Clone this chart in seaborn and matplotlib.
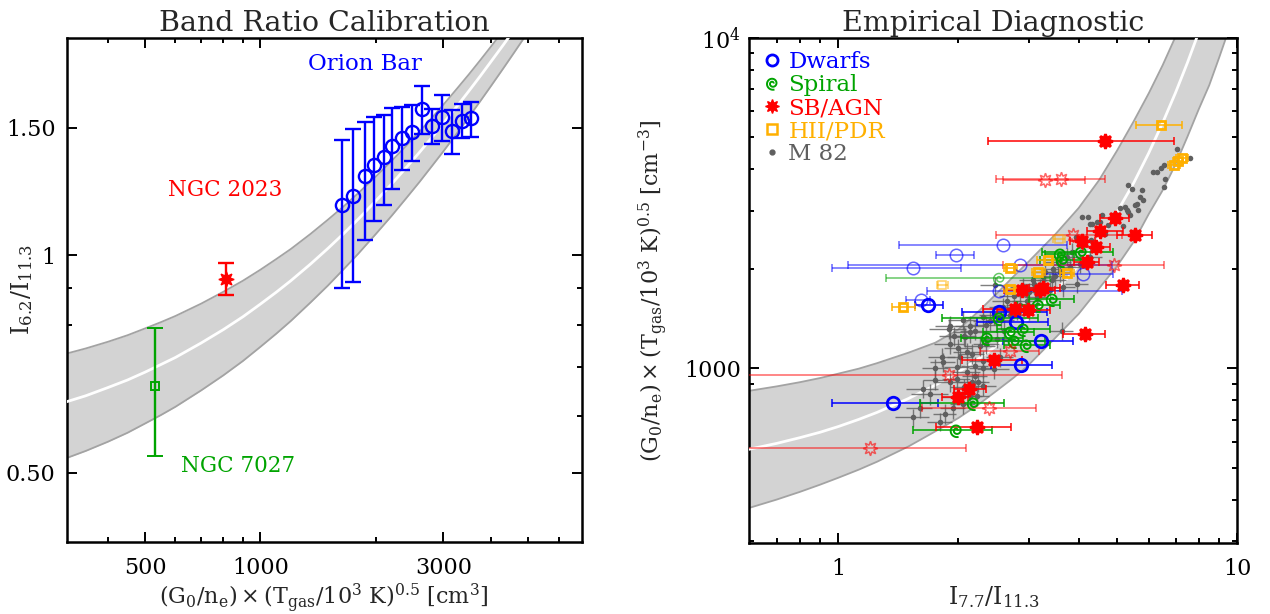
import numpy as np
import matplotlib
matplotlib.use('Agg')
import matplotlib.pyplot as plt
from matplotlib.path import Path
from matplotlib.lines import Line2D
from matplotlib.ticker import FixedLocator, FixedFormatter, NullFormatter
import seaborn as sns

# ---------------- data: left panel (band ratio calibration) ----------------
cal_x = [312, 350, 400, 450, 500, 550, 600, 700, 800, 900, 1000, 1100, 1200, 1350, 1500, 1650,
         1800, 2000, 2200, 2400, 2600, 2800, 3000, 3250, 3500, 3750, 4000, 4300, 4600, 4900, 5200]
cal_mid = [0.627, 0.639, 0.656, 0.672, 0.689, 0.706, 0.722, 0.756, 0.789, 0.822, 0.856, 0.889,
           0.922, 0.972, 1.022, 1.072, 1.122, 1.189, 1.255, 1.322, 1.388, 1.455, 1.522, 1.605,
           1.688, 1.771, 1.855, 1.954, 2.054, 2.154, 2.254]
cal_hi = [0.731, 0.743, 0.759, 0.775, 0.792, 0.808, 0.824, 0.857, 0.89, 0.922, 0.955, 0.988,
          1.02, 1.07, 1.12, 1.169, 1.219, 1.285, 1.351, 1.417, 1.483, 1.549, 1.615, 1.698,
          1.78, 1.863, 1.946, 2.045, 2.144, 2.243, 2.342]
cal_lo = [0.524, 0.536, 0.552, 0.568, 0.585, 0.601, 0.617, 0.650, 0.682, 0.714, 0.747, 0.779,
          0.811, 0.860, 0.908, 0.957, 1.005, 1.07, 1.134, 1.199, 1.263, 1.328, 1.392, 1.473,
          1.554, 1.635, 1.716, 1.813, 1.910, 2.007, 2.104]

orion_x = [1629, 1747, 1873, 1974, 2097, 2207, 2344, 2489, 2644, 2798, 2977, 3155, 3363, 3543]
orion_y = [1.172, 1.207, 1.288, 1.333, 1.366, 1.416, 1.455, 1.483, 1.591, 1.508, 1.554, 1.486, 1.536, 1.546]
orion_lo = [0.901, 0.918, 1.049, 1.115, 1.173, 1.236, 1.311, 1.352, 1.471, 1.427, 1.439, 1.382, 1.452, 1.458]
orion_hi = [1.442, 1.496, 1.528, 1.555, 1.562, 1.598, 1.604, 1.615, 1.712, 1.594, 1.667, 1.587, 1.618, 1.632]

ngc2023 = dict(x=811, y=0.928, lo=0.880, hi=0.977)
ngc7027 = dict(x=530, y=0.660, lo=0.528, hi=0.793)

# ---------------- data: right panel (empirical diagnostic) ----------------
diag_r = [0.55, 0.6, 0.7, 0.8, 0.9, 1.0, 1.125, 1.25, 1.5, 1.75, 2.0, 2.25, 2.5, 2.75, 3.0, 3.5,
          4.0, 4.5, 5.0, 5.5, 6.0, 6.5, 7.0, 7.5, 8.0, 8.5, 9.0, 9.5]
diag_mid = [558, 570, 593, 617, 641, 667, 701, 736, 811, 890, 975, 1071, 1175, 1290, 1415, 1706,
            2051, 2472, 2978, 3640, 4487, 5534, 6823, 8414, 10380, 12800, 15780, 19450]
diag_hi = [844, 856, 882, 908, 935, 964, 998, 1037, 1116, 1196, 1312, 1491, 1689, 1899, 2105, 2546,
           3053, 3706, 4567, 5593, 6799, 8265, 10080, 12220, 14650, 17810, 21960, 27060]
diag_lo = [369, 379, 401, 423, 445, 467, 494, 522, 581, 645, 708, 779, 858, 937, 1025, 1238,
           1460, 1743, 2043, 2415, 2933, 3458, 4137, 5025, 6071, 7179, 8697, 10500]

dw_x = [2.58, 1.97, 1.54, 2.85, 4.10, 2.52, 1.61, 1.68, 2.53, 2.78, 3.22, 2.87, 1.37]
dw_y = [2353, 2195, 2010, 2047, 1932, 1708, 1615, 1556, 1478, 1385, 1213, 1026, 785]
dw_xlo = [1.42, 1.76, 0.966, 1.055, 3.26, 1.67, 1.48, 1.56, 2.04, 2.22, 2.59, 2.41, 0.963]
dw_xhi = [3.74, 2.19, 2.03, 4.85, 4.89, 5.13, 1.70, 1.83, 3.33, 3.35, 3.87, 3.43, 1.78]
dw_bold = [0, 0, 0, 0, 0, 0, 0, 1, 1, 1, 1, 1, 1]

sp_x = [2.53, 3.59, 3.63, 4.06, 3.17, 3.43, 2.53, 2.69, 2.91, 2.355, 2.75, 2.95, 2.18, 1.97]
sp_y = [1874, 2222, 2121, 2246, 1560, 1622, 1421, 1285, 1317, 1236, 1213, 1180, 785, 653]
sp_xlo = [1.32, 3.3, 3.2, 3.23, 2.8, 3.0, 1.82, 2.3, 2.5, 2.03, 2.3, 2.6, 1.60, 1.54]
sp_xhi = [3.4, 3.9, 4.1, 4.89, 3.6, 3.9, 3.17, 3.1, 3.4, 2.91, 3.3, 3.4, 2.60, 2.42]
sp_bold = [0, 1, 1, 1, 1, 1, 1, 1, 1, 1, 1, 1, 1, 1]

sb_x = [4.66, 3.30, 3.61, 4.94, 4.52, 5.53, 3.88, 4.07, 4.42, 4.19, 4.92, 5.18, 3.20, 3.26, 2.88, 2.77,
        2.99, 4.15, 2.69, 2.45, 1.89, 2.12, 2.00, 2.38, 2.23, 1.20]
sb_y = [4864, 3706, 3750, 2848, 2596, 2535, 2535, 2420, 2327, 2094, 2047, 1793, 1720, 1750, 1720, 1514,
        1497, 1271, 1131, 1060, 957, 866, 817, 759, 666, 576]
sb_xlo = [2.37, 2.58, 2.49, 4.52, 4.19, 4.98, 2.49, 3.8, 4.1, 3.9, 2.58, 4.69, 2.9, 3.0, 2.6, 2.3,
          2.5, 3.66, 2.27, 2.04, 0.5, 1.95, 1.82, 1.62, 1.76, 0.5]
sb_xhi = [6.94, 4.14, 4.67, 5.36, 5.18, 6.12, 5.13, 4.4, 4.8, 4.5, 6.55, 5.68, 3.5, 3.6, 3.2, 3.1,
          3.4, 4.66, 3.19, 2.88, 3.64, 2.35, 2.11, 3.13, 2.71, 2.09]
sb_bold = [1, 0, 0, 1, 1, 1, 0, 1, 1, 1, 0, 1, 1, 1, 1, 1, 1, 1, 0, 1, 0, 1, 1, 0, 1, 0]

hii_x = [6.43, 7.26, 6.94, 7.10, 3.58, 3.36, 2.69, 3.17, 3.74, 1.82, 1.45, 2.69]
hii_y = [5440, 4330, 4113, 4250, 2466, 2121, 2010, 1960, 1945, 1789, 1531, 1740]
hii_xlo = [5.56, 7.0, 6.7, 6.9, 3.45, 3.15, 2.6, 3.05, 3.6, 1.77, 1.36, 2.6]
hii_xhi = [7.26, 7.5, 7.2, 7.3, 3.7, 3.6, 2.8, 3.3, 3.9, 1.88, 1.56, 2.8]
hii_bold = [1, 1, 1, 1, 0, 1, 1, 1, 1, 0, 1, 1]

# M 82 pixels with error bars
m82_x = [1.54, 1.85, 1.94, 1.70, 1.75, 1.63, 1.83, 1.90, 1.89, 2.06,
         2.14, 2.10, 2.27, 2.24, 2.10, 2.45, 2.31, 3.63, 2.14, 1.98,
         2.22, 1.90, 1.82, 2.08, 2.16, 2.14, 2.35, 2.40, 2.31, 2.59,
         2.91, 3.08, 3.26, 3.43, 3.59, 3.81, 3.96, 3.39, 3.14, 2.97,
         3.66, 4.04, 4.27, 3.74, 2.02, 1.98, 2.16, 2.06, 1.90, 2.54,
         2.47, 2.31, 2.70, 2.85, 3.00, 3.50, 2.20, 2.00, 2.60, 2.50,
         3.20, 3.00, 1.75, 1.95, 2.05, 2.20, 2.35, 2.45, 2.55, 2.65,
         2.75, 2.80, 3.10, 3.30, 3.45, 3.55, 3.85, 2.20, 2.30, 1.95,
         2.05, 1.80, 1.60]
m82_y = [711, 728, 757, 837, 925, 866, 1042, 1186, 1317, 1256,
         1347, 1118, 1172, 908, 973, 995, 886, 1301, 826, 929,
         826, 1347, 1080, 1242, 1106, 1285, 1186, 1395, 1427, 1531,
         1761, 1845, 1888, 1845, 1954, 2023, 1803, 1720, 1641, 1603,
         1761, 2072, 2170, 2170, 1080, 1007, 907, 876, 907, 1080,
         1781, 1055, 1450, 1550, 1700, 1900, 1020, 1150, 1300, 1230,
         1750, 1500, 1000, 1250, 1400, 1300, 1350, 1450, 1400, 1600,
         1650, 1500, 1800, 1950, 2000, 2100, 2250, 950, 1000, 820,
         780, 690, 760]
m82_xerr = [0.15, 0.12, 0.14, 0.18, 0.12, 0.15, 0.13, 0.16, 0.20, 0.15,
            0.18, 0.16, 0.20, 0.14, 0.17, 0.22, 0.18, 0.25, 0.15, 0.16,
            0.17, 0.15, 0.14, 0.19, 0.16, 0.20, 0.18, 0.22, 0.24, 0.20,
            0.22, 0.25, 0.22, 0.28, 0.25, 0.30, 0.26, 0.24, 0.22, 0.25,
            0.26, 0.30, 0.32, 0.28, 0.15, 0.14, 0.17, 0.16, 0.15, 0.20,
            0.20, 0.18, 0.22, 0.22, 0.24, 0.26, 0.17, 0.16, 0.20, 0.19,
            0.24, 0.22, 0.13, 0.16, 0.17, 0.18, 0.19, 0.20, 0.21, 0.22,
            0.22, 0.23, 0.25, 0.26, 0.27, 0.28, 0.30, 0.16, 0.17, 0.14,
            0.15, 0.13, 0.12]
m82_yerr = [45, 50, 55, 60, 65, 55, 70, 80, 90, 85,
            95, 75, 80, 60, 70, 65, 60, 80, 55, 60,
            55, 95, 70, 85, 75, 90, 80, 95, 100, 100,
            110, 120, 120, 115, 125, 130, 115, 110, 105, 100,
            115, 130, 140, 135, 70, 65, 60, 55, 60, 70,
            110, 70, 95, 100, 110, 120, 65, 75, 85, 80,
            110, 95, 65, 85, 95, 85, 90, 95, 90, 105,
            110, 100, 120, 125, 130, 135, 145, 60, 65, 55,
            50, 45, 50]
# M 82 pixels without error bars (upper branch)
m82b_x = [4.07, 4.32, 4.53, 4.75, 4.99, 5.28, 5.60, 5.38, 4.66, 7.61, 7.05, 6.53, 6.43, 6.28, 6.16, 6.60,
          6.53, 5.76, 5.43, 5.33, 5.70, 5.80, 5.53, 5.64, 5.23, 5.33, 5.08, 4.94, 4.57, 4.23, 4.44, 4.27,
          5.18, 3.95, 4.30]
m82b_y = [2869, 2739, 2770, 2707, 2902, 3006, 3148, 2902, 2553, 4330, 4600, 4113, 4035, 3927, 3927, 3750,
          3536, 3456, 3490, 3580, 3298, 3222, 3111, 3004, 3075, 2970, 3045, 2937, 2900, 2869, 2770, 2740,
          2700, 2500, 2450]

BLUE = '#0000ff'
GREEN = '#00a400'
RED = '#ff0000'
ORANGE = '#ffb000'
GRAY = '#5f5f5f'
BAND = '#d3d3d3'
BAND_EDGE = '#a3a3a3'

# spiral marker shape
t = np.linspace(0, 3.6 * np.pi, 90)
rr = 0.15 + 0.85 * t / t.max()
spiral = Path(np.column_stack([rr * np.cos(t), rr * np.sin(t)]))

sns.set_style('ticks')
plt.rcParams['font.family'] = ['DejaVu Serif']
plt.rcParams['mathtext.fontset'] = 'dejavuserif'
plt.rcParams['axes.linewidth'] = 1.8

fig = plt.figure(figsize=(12.7, 6.14), dpi=100)
ax1 = fig.add_axes([0.0525, 0.1173, 0.4055, 0.8213])
ax2 = fig.add_axes([0.590, 0.1161, 0.3843, 0.8225])


def style_axis(ax):
    ax.tick_params(which='both', direction='in', top=True, right=True, width=1.4,
                   labelsize=16, pad=11, colors='black')
    ax.tick_params(which='major', length=7)
    ax.tick_params(which='minor', length=3.6)
    for s in ax.spines.values():
        s.set_linewidth(1.8)
        s.set_color('black')


# ---------------- left panel ----------------
ax1.fill_between(cal_x, cal_lo, cal_hi, color=BAND, lw=0, zorder=1)
ax1.plot(cal_x, cal_hi, color=BAND_EDGE, lw=1.3, zorder=2)
ax1.plot(cal_x, cal_lo, color=BAND_EDGE, lw=1.3, zorder=2)
sns.lineplot(x=cal_x, y=cal_mid, color='white', lw=2, ax=ax1, zorder=3)

oy = np.array(orion_y)
ax1.errorbar(orion_x, orion_y, yerr=[oy - np.array(orion_lo), np.array(orion_hi) - oy],
             fmt='o', ms=9.5, mfc='none', mec=BLUE, mew=1.7, ecolor=BLUE, elinewidth=1.7,
             capsize=6, capthick=1.7, zorder=5)
ax1.errorbar([ngc2023['x']], [ngc2023['y']],
             yerr=[[ngc2023['y'] - ngc2023['lo']], [ngc2023['hi'] - ngc2023['y']]],
             fmt='none', ecolor=RED, elinewidth=1.7, capsize=6, capthick=1.7, zorder=5)
ax1.plot([ngc2023['x']], [ngc2023['y']], ls='none', marker=(8, 1, 0), ms=11, color=RED, zorder=6)
ax1.errorbar([ngc7027['x']], [ngc7027['y']],
             yerr=[[ngc7027['y'] - ngc7027['lo']], [ngc7027['hi'] - ngc7027['y']]],
             fmt='s', ms=5.5, mfc='none', mec=GREEN, mew=1.4, ecolor=GREEN, elinewidth=1.7,
             capsize=6, capthick=1.7, zorder=5)

ax1.text(0.579, 0.948, 'Orion Bar', color=BLUE, fontsize=16.5, ha='center', va='center',
         transform=ax1.transAxes)
ax1.text(0.307, 0.697, 'NGC 2023', color=RED, fontsize=15.5, ha='center', va='center',
         transform=ax1.transAxes)
ax1.text(0.333, 0.151, 'NGC 7027', color=GREEN, fontsize=15.5, ha='center', va='center',
         transform=ax1.transAxes)

ax1.set_xscale('log')
ax1.set_yscale('log')
ax1.set_xlim(312, 6890)
ax1.set_ylim(0.401, 2.0)
ax1.xaxis.set_major_locator(FixedLocator([500, 1000, 3000]))
ax1.xaxis.set_major_formatter(FixedFormatter(['500', '1000', '3000']))
ax1.xaxis.set_minor_locator(FixedLocator([400, 600, 700, 800, 900, 2000, 4000, 5000, 6000]))
ax1.xaxis.set_minor_formatter(NullFormatter())
ax1.yaxis.set_major_locator(FixedLocator([0.5, 1.0, 1.5]))
ax1.yaxis.set_major_formatter(FixedFormatter(['0.50', '1', '1.50']))
ax1.yaxis.set_minor_locator(FixedLocator([0.6, 0.7, 0.8, 0.9]))
ax1.yaxis.set_minor_formatter(NullFormatter())
style_axis(ax1)
ax1.tick_params(axis='y', pad=8)
ax1.set_title('Band Ratio Calibration', fontsize=20.5, pad=5)
ax1.set_xlabel(r'$\mathrm{(G_0/n_e)\times(T_{gas}/10^3\ K)^{0.5}\ [cm^3]}$', fontsize=16)
ax1.set_ylabel(r'$\mathrm{I_{6.2}/I_{11.3}}$', fontsize=17)
ax1.xaxis.set_label_coords(0.5, -0.078)
ax1.yaxis.set_label_coords(-0.062, 0.5)

# ---------------- right panel ----------------
ax2.fill_between(diag_r, diag_lo, diag_hi, color=BAND, lw=0, zorder=1)
ax2.plot(diag_r, diag_hi, color=BAND_EDGE, lw=1.3, zorder=2)
ax2.plot(diag_r, diag_lo, color=BAND_EDGE, lw=1.3, zorder=2)
sns.lineplot(x=diag_r, y=diag_mid, color='white', lw=2, ax=ax2, zorder=3)

# M 82
ax2.errorbar(m82_x, m82_y, xerr=m82_xerr, yerr=m82_yerr, fmt='none', ecolor=GRAY,
             elinewidth=1.0, alpha=0.8, zorder=4)
sns.scatterplot(x=m82_x + m82b_x, y=m82_y + m82b_y, color=GRAY, s=16, linewidth=0,
                ax=ax2, zorder=5)


def draw_group(x, y, xlo, xhi, bold, color, marker, ms, filled, mew=2.0):
    x = np.array(x, float)
    y = np.array(y, float)
    xlo = np.array(xlo, float)
    xhi = np.array(xhi, float)
    bold = np.array(bold, bool)
    for sel, strong in [(~bold, False), (bold, True)]:
        if not sel.any():
            continue
        a = 1.0 if strong else 0.6
        ax2.errorbar(x[sel], y[sel], xerr=[x[sel] - xlo[sel], xhi[sel] - x[sel]], fmt='none',
                     ecolor=color, elinewidth=1.1, capsize=3, capthick=1.1, alpha=a, zorder=6)
        fc = color if (filled and strong) else 'none'
        ax2.plot(x[sel], y[sel], ls='none', marker=marker, ms=ms, mfc=fc, mec=color,
                 mew=mew if strong else 1.1, alpha=a, zorder=7)


draw_group(dw_x, dw_y, dw_xlo, dw_xhi, dw_bold, BLUE, 'o', 9, False)
draw_group(sp_x, sp_y, sp_xlo, sp_xhi, sp_bold, GREEN, spiral, 9.5, False, mew=1.4)
draw_group(sb_x, sb_y, sb_xlo, sb_xhi, sb_bold, RED, (8, 1, 0), 10.5, True)
draw_group(hii_x, hii_y, hii_xlo, hii_xhi, hii_bold, ORANGE, 's', 6, False)

handles = [
    Line2D([], [], ls='none', marker='o', ms=8, mfc='none', mec=BLUE, mew=2),
    Line2D([], [], ls='none', marker=spiral, ms=9, mfc='none', mec=GREEN, mew=1.4),
    Line2D([], [], ls='none', marker=(8, 1, 0), ms=10, color=RED),
    Line2D([], [], ls='none', marker='s', ms=6.5, mfc='none', mec=ORANGE, mew=1.8),
    Line2D([], [], ls='none', marker='o', ms=3.5, color=GRAY),
]
ax2.legend(handles, ['Dwarfs', 'Spiral', 'SB/AGN', 'HII/PDR', 'M 82'],
           labelcolor=[BLUE, GREEN, RED, ORANGE, GRAY], loc='upper left', frameon=False,
           fontsize=16.5, handlelength=0.8, handletextpad=0.3, labelspacing=0.04,
           borderaxespad=0.3, borderpad=0.3)

ax2.set_xscale('log')
ax2.set_yscale('log')
ax2.set_xlim(0.598, 10)
ax2.set_ylim(297, 10000)
ax2.xaxis.set_major_locator(FixedLocator([1, 10]))
ax2.xaxis.set_major_formatter(FixedFormatter(['1', '10']))
ax2.xaxis.set_minor_locator(FixedLocator([0.7, 0.8, 0.9, 2, 3, 4, 5, 6, 7, 8, 9]))
ax2.xaxis.set_minor_formatter(NullFormatter())
ax2.yaxis.set_major_locator(FixedLocator([1000, 10000]))
ax2.yaxis.set_major_formatter(FixedFormatter(['1000', r'$10^4$']))
ax2.yaxis.set_minor_locator(FixedLocator([300, 400, 500, 600, 700, 800, 900,
                                          2000, 3000, 4000, 5000, 6000, 7000, 8000, 9000]))
ax2.yaxis.set_minor_formatter(NullFormatter())
style_axis(ax2)
ax2.tick_params(axis='y', pad=6)
ax2.set_title('Empirical Diagnostic', fontsize=20.5, pad=5)
ax2.set_xlabel(r'$\mathrm{I_{7.7}/I_{11.3}}$', fontsize=17)
ax2.set_ylabel(r'$\mathrm{(G_0/n_e)\times(T_{gas}/10^3\ K)^{0.5}\ [cm^{-3}]}$', fontsize=16)
ax2.xaxis.set_label_coords(0.5, -0.082)
ax2.yaxis.set_label_coords(-0.163, 0.5)

fig.savefig('out.png', dpi=100)
